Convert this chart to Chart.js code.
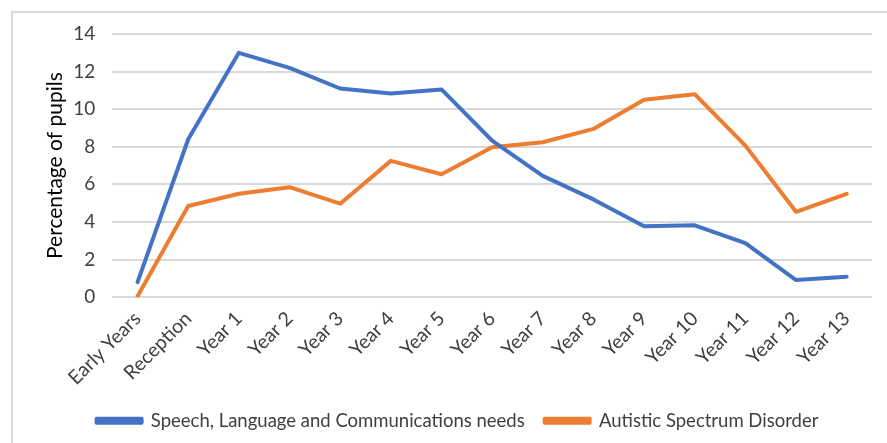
<!DOCTYPE html>
<html>
<head>
<meta charset="utf-8">
<script src="https://cdn.jsdelivr.net/npm/chart.js@4"></script>
<style>
  body { margin: 0; background: #fff; overflow: hidden; }
  #frame { position: absolute; left: 11px; top: 11px; width: 1000px; height: 600px;
    border-top: 2px solid #d9d9d9; border-left: 2px solid #d9d9d9; }
  #wrap { position: absolute; left: 0; top: 0; width: 887px; height: 443px; }
</style>
</head>
<body>
<div id="frame"></div>
<div id="wrap"><canvas id="Chart"></canvas></div>
<script>
const years = ['Early Years', 'Reception', 'Year 1', 'Year 2', 'Year 3', 'Year 4', 'Year 5', 'Year 6',
  'Year 7', 'Year 8', 'Year 9', 'Year 10', 'Year 11', 'Year 12', 'Year 13'];
const speechNeeds = [0.8, 8.4, 13.0, 12.2, 11.1, 10.83, 11.05, 8.33, 6.45, 5.2, 3.77, 3.82, 2.87, 0.91, 1.09];
const autistic = [0.05, 4.85, 5.5, 5.85, 4.97, 7.25, 6.54, 7.97, 8.24, 8.95, 10.5, 10.8, 8.06, 4.54, 5.5];
const yTicks = [0, 2, 4, 6, 8, 10, 12, 14];

const fontName = "Lato, 'Open Sans', sans-serif";
Chart.defaults.font.family = fontName;
Chart.defaults.color = '#404040';

const ctx = document.getElementById('Chart');
new Chart(ctx, {
  type: 'line',
  data: {
    labels: years,
    datasets: [
      {
        label: 'Speech, Language and Communications needs',
        data: speechNeeds,
        borderColor: '#4472C4',
        backgroundColor: '#4472C4',
        borderWidth: 4,
        borderCapStyle: 'round',
        borderJoinStyle: 'round',
        pointRadius: 0,
        tension: 0
      },
      {
        label: 'Autistic Spectrum Disorder',
        data: autistic,
        borderColor: '#ED7D31',
        backgroundColor: '#ED7D31',
        borderWidth: 4,
        borderCapStyle: 'round',
        borderJoinStyle: 'round',
        pointRadius: 0,
        tension: 0
      }
    ]
  },
  options: {
    responsive: true,
    maintainAspectRatio: false,
    animation: false,
    layout: { padding: { top: 34, right: 15, left: 43, bottom: 3 } },
    plugins: {
      tooltip: { enabled: false },
      legend: {
        position: 'bottom',
        labels: {
          boxWidth: 45,
          boxHeight: 4,
          padding: 20,
          color: '#404040',
          font: { size: 18.5 }
        }
      }
    },
    scales: {
      x: {
        offset: true,
        grid: { display: false },
        border: { display: false },
        ticks: {
          maxRotation: 45,
          minRotation: 45,
          autoSkip: false,
          padding: 2,
          color: '#404040',
          font: { size: 19.5 }
        }
      },
      y: {
        min: 0,
        max: 14,
        afterBuildTicks: (axis) => { axis.ticks = yTicks.map(v => ({ value: v })); },
        grid: { color: '#d9d9d9', lineWidth: 2, drawTicks: false },
        border: { display: false },
        ticks: {
          padding: 17,
          color: '#404040',
          font: { size: 19 }
        },
        title: {
          display: true,
          text: 'Percentage of pupils',
          color: '#000',
          font: { size: 21 },
          padding: { top: 0, bottom: -12 }
        }
      }
    }
  }
});
</script>
</body>
</html>
